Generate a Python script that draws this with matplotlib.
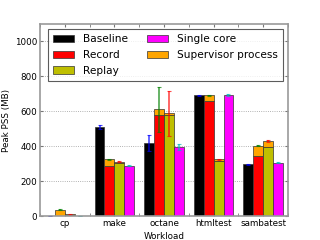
import numpy as np
import matplotlib
matplotlib.use("Agg")
import matplotlib.pyplot as plt

workloads = ["cp", "make", "octane", "htmltest", "sambatest"]

baseline = [1, 511, 420, 692, 297]
baseline_err = [0, 13, 46, 3, 3]

record = [2, 289, 578, 659, 345]
record_sup = [35, 35, 33, 34, 57]
record_err = [2, 3, 127, 3, 3]

replay = [3, 301, 580, 314, 393]
replay_sup = [6, 11, 9, 10, 36]
replay_err = [1, 3, 129, 3, 4]

single = [1, 289, 395, 692, 305]
single_err = [0, 2, 15, 5, 3]

plt.rcParams["font.family"] = "DejaVu Sans"
fig = plt.figure(figsize=(3.2, 2.4), dpi=100)
ax = fig.add_axes([0.125, 0.1, 0.775, 0.8])

ind = np.arange(len(workloads))
w = 0.2
kw = dict(width=w, align="edge", edgecolor="#333333", linewidth=0.5)
ekw = dict(elinewidth=1.2, capsize=1.5, capthick=0.8, alpha=0.7)

rec_tot = np.array(record) + np.array(record_sup)
rep_tot = np.array(replay) + np.array(replay_sup)

ax.bar(ind - 2 * w, baseline, color="black", label="Baseline", **kw)
ax.bar(ind - w, record, color="red", label="Record", **kw)
ax.bar(ind - w, record_sup, bottom=record, color="orange", **kw)
ax.bar(ind, replay, color="#bfbf00", label="Replay", **kw)
ax.bar(ind, replay_sup, bottom=replay, color="orange", **kw)
ax.bar(ind + w, single, color="magenta", label="Single core", **kw)
ax.bar([0], [0], color="orange", label="Supervisor process", **kw)

ax.errorbar(ind - 1.5 * w, baseline, yerr=baseline_err, fmt="none", ecolor="b", **ekw)
ax.errorbar(ind - 0.5 * w, rec_tot, yerr=record_err, fmt="none", ecolor="g", **ekw)
ax.errorbar(ind + 0.5 * w, rep_tot, yerr=replay_err, fmt="none", ecolor="r", **ekw)
ax.errorbar(ind + 1.5 * w, single, yerr=single_err, fmt="none", ecolor="c", **ekw)

ax.set_xlim(-0.5, 4.5)
ax.set_ylim(0, 1100)
ax.set_xticks(ind)
ax.set_xticks(np.arange(-0.5, 4.6, 0.5), minor=True)
ax.set_xticklabels(workloads, fontsize=6.3)
ax.set_yticks(np.arange(0, 1001, 200))
ax.tick_params(axis="y", labelsize=6.3)
ax.tick_params(which="both", direction="in", top=True, right=True, length=2.5,
               color="#777777", pad=2)
ax.tick_params(axis="x", which="minor", length=2.5)
ax.yaxis.grid(True, linestyle=":", color="#999999", linewidth=0.6)
ax.set_axisbelow(True)
for s in ax.spines.values():
    s.set_color("#999999")
    s.set_linewidth(1.2)

ax.set_xlabel("Workload", fontsize=6.3, labelpad=3)
ax.set_ylabel("Peak PSS (MB)", fontsize=6.3, labelpad=3)

leg = ax.legend(loc="upper left", bbox_to_anchor=(0.032, 0.974), ncol=2,
                fontsize=7.6, fancybox=False, handlelength=2.0,
                handleheight=0.75, columnspacing=1.8, borderpad=0.49,
                labelspacing=0.56, handletextpad=0.85, borderaxespad=0)
leg.get_frame().set_edgecolor("#333333")
leg.get_frame().set_linewidth(0.8)

fig.savefig("out.png", dpi=100)
